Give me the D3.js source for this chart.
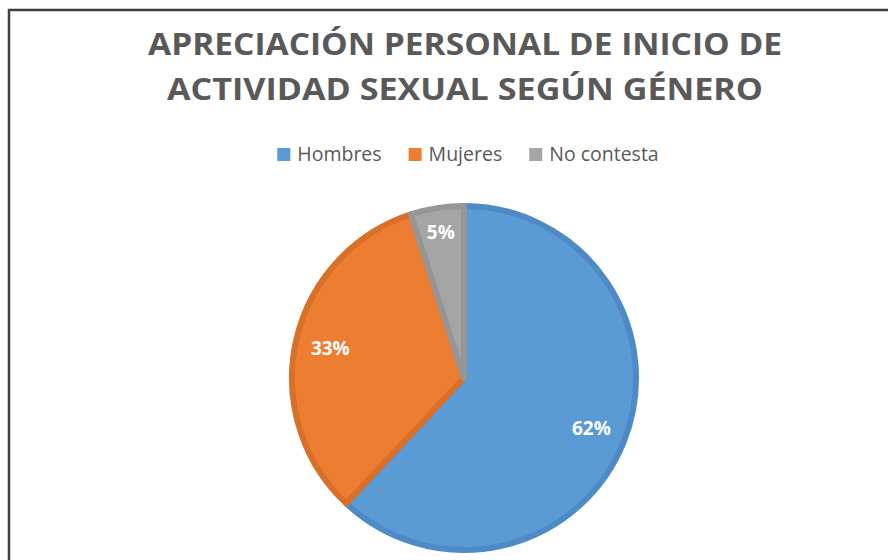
<!DOCTYPE html>
<html>
<head>
<meta charset="utf-8">
<script src="https://cdn.jsdelivr.net/npm/d3@7"></script>
<style>
  body { margin: 0; background: #fff; }
  svg { display: block; }
</style>
</head>
<body>
<svg></svg>
<script>
// datos
let categories = ["Hombres", "Mujeres", "No contesta"]
let values = [62, 33, 5]
let colors = ["#5B9BD5", "#ED7D31", "#A5A5A5"]
let borders = ["#4E8BC6", "#D9702A", "#969696"]
let titleLines = ["APRECIACIÓN PERSONAL DE INICIO DE", "ACTIVIDAD SEXUAL SEGÚN GÉNERO"]

let width = 888
let height = 560
let cx = 464
let cy = 378
let radius = 175

let svg = d3.select("svg")
  .attr("width", width)
  .attr("height", height)

// marco del grafico
svg.append("rect")
  .attr("x", 9)
  .attr("y", 10)
  .attr("width", width + 20)
  .attr("height", height + 20)
  .attr("fill", "none")
  .attr("stroke", "#3f3f3f")
  .attr("stroke-width", 2.5)

// titulo
svg.selectAll(".title")
  .data(titleLines)
  .enter()
  .append("text")
  .attr("class", "title")
  .attr("x", 465)
  .attr("y", (d, i) => 55 + i * 45)
  .attr("text-anchor", "middle")
  .attr("font-family", "'Open Sans', sans-serif")
  .attr("font-weight", "bold")
  .attr("font-size", 31)
  .attr("fill", "#595959")
  .attr("textLength", (d, i) => i == 0 ? 634 : 596)
  .attr("lengthAdjust", "spacingAndGlyphs")
  .text(d => d)

// leyenda
let legend = svg.append("g")
let lx = 0
categories.forEach((c, i) => {
  let item = legend.append("g").attr("transform", "translate(" + lx + ",0)")
  item.append("rect")
    .attr("x", 0)
    .attr("y", -13)
    .attr("width", 13)
    .attr("height", 13)
    .attr("fill", colors[i])
  let t = item.append("text")
    .attr("x", 20)
    .attr("y", 0)
    .attr("font-family", "'Open Sans', sans-serif")
    .attr("font-size", 19.5)
    .attr("fill", "#595959")
    .text(c)
  lx += 20 + t.node().getComputedTextLength() + 27
})
let legendWidth = lx - 27
legend.attr("transform", "translate(" + (468 - legendWidth / 2) + ",161)")

// pastel
let pie = d3.pie().sort(null).value(d => d.value)
let pieData = pie(categories.map((c, i) => ({ name: c, value: values[i], i: i })))

let arc = d3.arc().innerRadius(0).outerRadius(radius - 3)

let g = svg.append("g").attr("transform", "translate(" + cx + "," + cy + ")")

g.selectAll("path")
  .data(pieData)
  .enter()
  .append("path")
  .attr("d", arc)
  .attr("fill", d => colors[d.data.i])
  .attr("stroke", d => borders[d.data.i])
  .attr("stroke-width", 6)
  .attr("stroke-linejoin", "round")

let labelArc = d => {
  let r = d.data.value < 10 ? 148 : 137
  return d3.arc().innerRadius(r).outerRadius(r).centroid(d)
}

g.selectAll(".label")
  .data(pieData)
  .enter()
  .append("text")
  .attr("class", "label")
  .attr("x", d => labelArc(d)[0])
  .attr("y", d => labelArc(d)[1])
  .attr("dy", "0.36em")
  .attr("text-anchor", "middle")
  .attr("font-family", "'Open Sans', sans-serif")
  .attr("font-weight", "bold")
  .attr("font-size", 19)
  .attr("fill", "#ffffff")
  .text(d => d.data.value + "%")
</script>
</body>
</html>
